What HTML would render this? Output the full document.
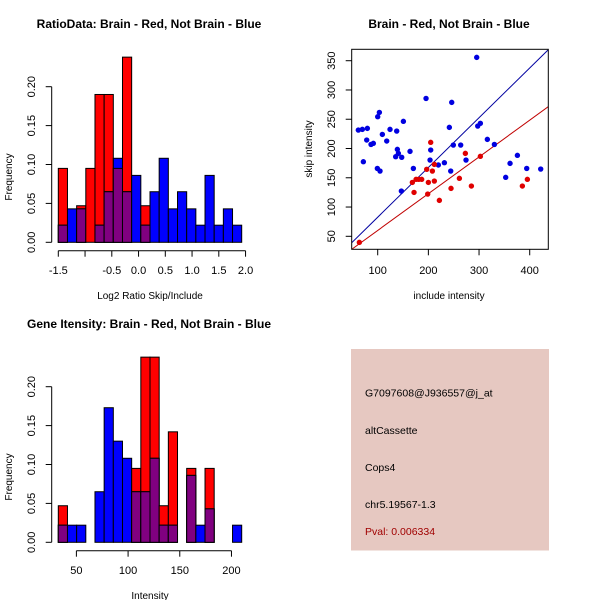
<!DOCTYPE html>
<html><head><meta charset="utf-8"><style>
html,body{margin:0;padding:0;background:#fff;}
svg{display:block;font-family:"Liberation Sans",Arial,sans-serif;}
</style></head><body>
<svg id="c" width="600" height="600" viewBox="0 0 600 600"></svg>
<script>
// ---- data: ratio histogram ----
const ratioRed = [0.095,0,0.047,0.095,0.19,0.19,0.095,0.238,0,0.047,0,0,0,0,0,0,0,0,0,0];
const ratioBlue = [0.022,0.043,0.043,0,0.022,0.065,0.108,0.065,0.086,0.022,0.065,0.108,0.043,0.065,0.043,0.022,0.086,0.022,0.043,0.022];
const ratioStart = -1.5, ratioBin = 0.1714;
const ratioXTicks = [-1.5,-1.0,-0.5,0.0,0.5,1.0,1.5,2.0];
const ratioXLabels = ["-1.5","","-0.5","0.0","0.5","1.0","1.5","2.0"];
const freqTicks = [0,0.05,0.10,0.15,0.20];
const freqLabels = ["0.00","0.05","0.10","0.15","0.20"];
// ---- data: intensity histogram ----
const intRed = [0.047,0,0,0,0,0,0,0,0.095,0.238,0.238,0.047,0.142,0,0.095,0,0.095,0,0,0];
const intBlue = [0.022,0.022,0.022,0,0.065,0.173,0.13,0.108,0.065,0.065,0.108,0.022,0.022,0,0.086,0.022,0.043,0,0,0.022];
const intStart = 32.5, intBin = 8.87;
const intXTicks = [50,100,150,200];
// ---- data: scatter ----
const blueX = [61.8,69.7,79.6,71.7,78.3,86.8,91.4,99.3,104.6,100,103.3,109.2,117.8,124.3,137.5,138.8,135.5,140.8,147.4,146.7,150.7,163.8,170.4,195.4,203.3,204.6,219.7,231.6,241.4,246.1,244.1,249.3,263.8,274.3,295.4,297.4,302.6,316.4,330.3,352.6,361.2,375.7,394.1,421.7];
const blueY = [231.5,232.7,234.4,177.4,214.5,207,208.8,166,161.5,254.3,261.7,224.1,212.8,232.7,229.8,198.5,186,191.7,184.9,127.3,246.4,195.1,166,285.6,180.3,197.4,171.8,175.7,236.1,278.8,161.5,205.9,205.9,180.3,355.7,238.4,243,215.6,207,150.7,174.6,188.3,166,164.9];
const redX = [63.8,168.4,175.7,180.9,186.8,171.7,196.7,200,198.7,204.6,207.9,211.8,211.8,221.7,244.7,261.2,273,284.9,302.6,385.5,395.4];
const redY = [39.6,142.1,147.3,147.3,147.3,125,164.4,142.1,122.2,210.5,161.5,172.9,144.4,111.4,131.9,149,191.7,135.9,186.6,135.9,147.3];
const lineBlue = [0.85,-2.4]; // slope, intercept
const lineRed = [0.628,-2.8];
const scX = [100,200,300,400], scY = [50,100,150,200,250,300,350];

const svg = document.getElementById('c');
const NS = 'http://www.w3.org/2000/svg';
function mk(tag, a, parent){const e=document.createElementNS(NS,tag);for(const k in a)e.setAttribute(k,a[k]);(parent||svg).appendChild(e);return e;}
function txt(x,y,s,a,parent){const e=mk('text',Object.assign({x:x,y:y,'font-size':11,'text-anchor':'middle',fill:'#000'},a||{}),parent);e.textContent=s;return e;}

function histogram(name, top, red, blue, start, bin, xmin, xmax, xticks, xlabels, title, xtitle){
  const g = mk('g',{});
  
  
  const px0=58.3, px1=241.7; // bar extent
  const n=red.length;
  const xs = v => px0 + (v-start)/(bin*n)*(px1-px0);
  const y0 = top+202.3, ys = v => y0 - v/0.05*38.9;
  for(let i=0;i<n;i++){
    const x=xs(start+i*bin), w=xs(start+(i+1)*bin)-x;
    const r=red[i], b=blue[i], m=Math.min(r,b);
    if(r>0){const e=mk('rect',{x:x,y:ys(r),width:w,height:y0-ys(r),fill:'#ff0000',stroke:'#000','stroke-width':1},g);
       }
    if(b>0){const e=mk('rect',{x:x,y:ys(b),width:w,height:y0-ys(b),fill:'#0000ff',stroke:'#000','stroke-width':1},g);
       }
    if(m>0){const e=mk('rect',{x:x,y:ys(m),width:w,height:y0-ys(m),fill:'#800080',stroke:'#000','stroke-width':1},g);
       }
  }
  // x axis
  const ay=top+210.7;
  mk('line',{x1:xs(xticks[0]),x2:xs(xticks[xticks.length-1]),y1:ay,y2:ay,stroke:'#000'},g);
  xticks.forEach((t,i)=>{mk('line',{x1:xs(t),x2:xs(t),y1:ay,y2:ay+6,stroke:'#000'},g);
    const l=txt(xs(t),top+234,xlabels[i],{},g);  });
  // y axis
  const ax=51.7;
  mk('line',{x1:ax,x2:ax,y1:ys(0),y2:ys(0.2),stroke:'#000'},g);
  freqTicks.forEach((t,i)=>{const y=ys(t);mk('line',{x1:ax,x2:ax-6,y1:y,y2:y,stroke:'#000'},g);
    const l=txt(35,y,freqLabels[i],{transform:'rotate(-90 35 '+y+')'},g);  });
  const yt=txt(12,top+137,'Frequency',{'font-size':10,transform:'rotate(-90 12 '+(top+137)+')'},g);
   
  const xt=txt(150,top+259,xtitle,{'font-size':10},g);
   
  const tt=txt(149,top-12,title,{'font-weight':'bold','font-size':12},g);
   
}
histogram('ratio-histogram',40,ratioRed,ratioBlue,ratioStart,ratioBin,-1.5,2.0,ratioXTicks,ratioXLabels,'RatioData: Brain - Red, Not Brain - Blue','Log2 Ratio Skip/Include');
histogram('intensity-histogram',340,intRed,intBlue,intStart,intBin,32.5,210,intXTicks,intXTicks.map(String),'Gene Itensity: Brain - Red, Not Brain - Blue','Intensity');

// scatter
(function(){
  const g=mk('g',{});
  
  
  const L=351.7,R=548.3,T=49.3,B=249.3;
  const xs=v=>377.7+(v-100)*0.5067, ys=v=>236.3-(v-50)*0.5853;
  const cp=mk('clipPath',{id:'clip'},g); mk('rect',{x:L,y:T,width:R-L,height:B-T},cp);
  const ln=(p,col,nm)=>{const x0=40,x1=450;const e=mk('line',{x1:xs(x0),y1:ys(p[0]*x0+p[1]),x2:xs(x1),y2:ys(p[0]*x1+p[1]),stroke:col,'stroke-width':1,'clip-path':'url(#clip)'},g);
     };
  ln(lineBlue,'#0000a0','blue-fit-line'); ln(lineRed,'#c00000','red-fit-line');
  blueX.forEach((x,i)=>{const e=mk('circle',{cx:xs(x),cy:ys(blueY[i]),r:2.7,fill:'#0000e0'},g);
     });
  redX.forEach((x,i)=>{const e=mk('circle',{cx:xs(x),cy:ys(redY[i]),r:2.7,fill:'#e00000'},g);
     });
  mk('rect',{x:L,y:T,width:R-L,height:B-T,fill:'none',stroke:'#000'},g);
  scX.forEach(t=>{mk('line',{x1:xs(t),x2:xs(t),y1:B,y2:B+6,stroke:'#000'},g);
    const l=txt(xs(t),274,String(t),{},g);  });
  scY.forEach(t=>{const y=ys(t);mk('line',{x1:L,x2:L-6,y1:y,y2:y,stroke:'#000'},g);
    const l=txt(335,y,String(t),{transform:'rotate(-90 335 '+y+')'},g);  });
  const xt=txt(449,299,'include intensity',{'font-size':10},g);  
  const yt=txt(312,149,'skip intensity',{'font-size':10,transform:'rotate(-90 312 149)'},g);  
  const tt=txt(449,28,'Brain - Red, Not Brain - Blue',{'font-weight':'bold','font-size':12},g);  
})();

// info box
(function(){
  const g=mk('g',{});
  
  
  mk('rect',{x:351,y:349,width:198,height:201.5,fill:'#e6c8c1'},g);
  const lines=[['G7097608@J936557@j_at',396.5,'#000','probe-id'],['altCassette',434,'#000','event-type'],['Cops4',471,'#000','gene-name'],['chr5.19567-1.3',508,'#000','location'],['Pval: 0.006334',535,'#a00000','p-value']];
  lines.forEach(l=>{const e=txt(365,l[1],l[0],{'text-anchor':'start','font-size':10.5,fill:l[2]},g);
     });
})();
</script>
</body></html>
